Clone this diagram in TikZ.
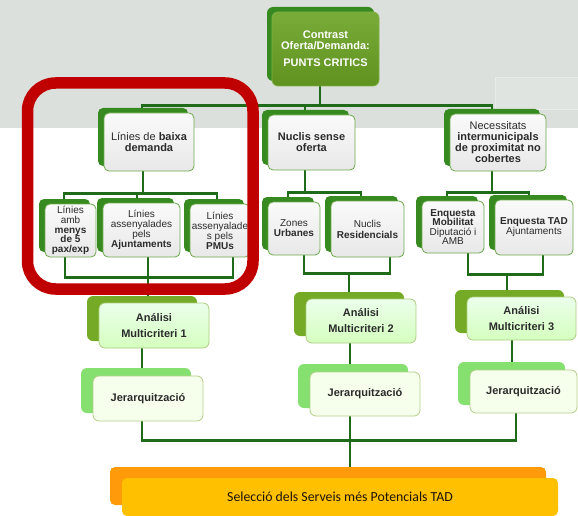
\documentclass[tikz,border=0pt]{standalone}
\usepackage{fontspec}
\setmainfont{Liberation Sans}
\newfontfamily\calibri{Carlito}
\usetikzlibrary{shadows,backgrounds,calc}
\definecolor{fons}{HTML}{DCE0DC}
\definecolor{verdfosc}{HTML}{1F6B1A}
\definecolor{verdombra}{HTML}{378A20}
\definecolor{verdvora}{HTML}{6BA84A}
\definecolor{verdarrel}{HTML}{6AA222}
\definecolor{verdanalisi}{HTML}{74AA26}
\definecolor{verdjerar}{HTML}{86E070}
\definecolor{taronja}{HTML}{FF9A0A}
\definecolor{groc}{HTML}{FFC000}
\definecolor{vermell}{HTML}{C00000}
\definecolor{textfosc}{HTML}{2B2B2B}
\tikzstyle{caixa} = [rectangle, rounded corners=5pt, draw=verdvora, line width=0.8pt,
top color=white!96!gray, bottom color=black!9, text=textfosc, align=center, inner sep=1pt,
general shadow={fill=verdombra, shadow xshift=-6pt, shadow yshift=5pt}]
\tikzstyle{arrel} = [rectangle, rounded corners=6pt, draw=verdarrel!85!white, line width=0.8pt,
top color=verdarrel!90!white, bottom color=verdarrel!90!black, text=white, align=center,
font=\fontsize{11}{11}\selectfont\bfseries,
general shadow={fill=verdombra, shadow xshift=-5pt, shadow yshift=5pt}]
\tikzstyle{analisi} = [rectangle, rounded corners=6pt, draw=verdanalisi!60!white, line width=0.8pt,
top color=green!8!white, bottom color=green!55!lime!25!white, text=textfosc, align=center,
font=\fontsize{11}{16}\selectfont\bfseries,
general shadow={fill=verdanalisi, shadow xshift=-12pt, shadow yshift=7pt}]
\tikzstyle{jerarquia} = [rectangle, rounded corners=6pt, draw=verdanalisi!55!white, line width=0.8pt,
fill=green!25!lime!8!white, text=textfosc, font=\fontsize{11}{12}\selectfont\bfseries,
general shadow={fill=verdjerar, shadow xshift=-12pt, shadow yshift=8pt}]
\tikzstyle{seleccio} = [rectangle, rounded corners=5pt, fill=groc, text=black!85!brown,
font=\calibri\fontsize{13.8}{14}\selectfont,
general shadow={fill=taronja, shadow xshift=-12pt, shadow yshift=11pt}]
\tikzstyle{linia} = [line width=2.5pt, verdfosc]

\begin{document}
\begin{tikzpicture}[x=1pt, y=-1pt]
\useasboundingbox (0,0) rectangle (578,516);
\node (arrel) at (325.5,49) [arrel, minimum width=107pt, minimum height=74pt] {Contrast\\Oferta/Demanda:\\[6pt]PUNTS CRITICS};
\node (l0) at (149,142) [caixa, minimum width=90pt, minimum height=58pt, font=\fontsize{11}{11}\selectfont] {Línies de \textbf{baixa}\\\textbf{demanda}};
\node (n0) at (311.5,142.5) [caixa, minimum width=87pt, minimum height=55pt, font=\fontsize{11}{11}\selectfont\bfseries] {Nuclis sense\\oferta};
\node (r0) at (498,142.5) [caixa, minimum width=96pt, minimum height=57pt, font=\fontsize{11}{11}\selectfont] {Necessitats\\\textbf{intermunicipals}\\\textbf{de proximitat no}\\\textbf{cobertes}};
\node (la) at (70.5,230.5) [caixa, minimum width=51pt, minimum height=53pt, font=\fontsize{10}{9.8}\selectfont] {Línies\\amb\\\textbf{menys}\\\textbf{de 5}\\\textbf{pax/exp}};
\node (lb) at (141.5,230) [caixa, minimum width=77pt, minimum height=54pt, font=\fontsize{10}{10}\selectfont] {Línies\\assenyalades\\pels\\\textbf{Ajuntaments}};
\node (lc) at (220,230.5) [caixa, minimum width=60pt, minimum height=53pt, font=\fontsize{10}{10}\selectfont] {Línies\\assenyalade\\s pels\\\textbf{PMUs}};
\node (nz) at (294,228.5) [caixa, minimum width=52pt, minimum height=53pt, font=\fontsize{10}{10}\selectfont] {Zones\\\textbf{Urbanes}};
\node (nr) at (367.5,229) [caixa, minimum width=73pt, minimum height=56pt, font=\fontsize{10}{11}\selectfont] {Nuclis\\\textbf{Residencials}};
\node (ee) at (453,227) [caixa, minimum width=62pt, minimum height=52pt, font=\fontsize{10}{9.6}\selectfont] {\textbf{Enquesta}\\\textbf{Mobilitat}\\Diputació i\\AMB};
\node (et) at (534,227.5) [caixa, minimum width=78pt, minimum height=55pt, font=\fontsize{10}{10}\selectfont] {\textbf{Enquesta TAD}\\Ajuntaments};
\node (an1) at (154,325.5) [analisi, minimum width=110pt, minimum height=45pt] {Análisi\\Multicriteri 1};
\node (an2) at (361,321) [analisi, minimum width=110pt, minimum height=44pt] {Análisi\\Multicriteri 2};
\node (an3) at (521.5,318.5) [analisi, minimum width=109pt, minimum height=43pt] {Análisi\\Multicriteri 3};
\node (je1) at (148,398.5) [jerarquia, minimum width=110pt, minimum height=45pt] {Jerarquització};
\node (je2) at (365,394) [jerarquia, minimum width=110pt, minimum height=44pt] {Jerarquització};
\node (je3) at (523.5,391.5) [jerarquia, minimum width=107pt, minimum height=43pt] {Jerarquització};
\node (sel) at (340,497) [seleccio, minimum width=436pt, minimum height=38pt] {Selecció dels Serveis més Potencials TAD};
\begin{pgfonlayer}{background}
\fill[fons] (0,0) rectangle (578,128);
\draw[draw=white!35!fons, fill=white!12!fons] (495,77) rectangle (580,109);
% nivell 1
\draw[linia] ([xshift=-5.5pt]arrel.south) -- ++(0,19) coordinate (b0);
\draw[linia] ([xshift=-7pt]l0.north) |- (b0) -| ([xshift=-6pt]r0.north);
\draw[linia] ([xshift=-6.5pt]n0.north) -- ++(0,-10);
% nivell 2
\draw[linia] ([xshift=-6pt]l0.south) -- ++(0,22) coordinate (b1);
\draw[linia] ([xshift=-6.5pt]la.north) |- (b1) -| ([xshift=-3pt]lc.north);
\draw[linia] ([xshift=-4.5pt]lb.north) -- ++(0,-10);
\draw[linia] ([xshift=-6.5pt]n0.south) -- ++(0,22) coordinate (b2);
\draw[linia] ([xshift=-6pt]nz.north) |- (b2) -| ([xshift=-6.5pt]nr.north);
\draw[linia] ([xshift=-6pt]r0.south) -- ++(0,21) coordinate (b3);
\draw[linia] ([xshift=-6pt]ee.north) |- (b3) -| ([xshift=-5pt]et.north);
% nivell 3
\draw[linia] ([xshift=-5.5pt]la.south) -- ++(0,20) -| ([xshift=13pt]lc.south);
\draw[linia] ([xshift=6.5pt]lb.south) -- ([xshift=-6pt]an1.north);
\draw[linia] ([xshift=10pt]nz.south) -- ++(0,18) -| ([xshift=22.5pt]nr.south);
\draw[linia] ([xshift=-12pt]an2.north) -- ++(0,-26);
\draw[linia] ([xshift=15pt]ee.south) -- ++(0,21) -| ([xshift=9pt]et.south);
\draw[linia] ([xshift=-14.5pt]an3.north) -- ++(0,-23);
% analisi
\draw[linia] ([xshift=-12pt]an1.south) -- ([xshift=-6pt]je1.north);
\draw[linia] ([xshift=-11pt]an2.south) -- ([xshift=-15pt]je2.north);
\draw[linia] ([xshift=-9.5pt]an3.south) -- ([xshift=-11.5pt]je3.north);
% seleccio
\draw[linia] ([xshift=-6pt]je1.south) -- ++(0,19) -| ([xshift=-7.5pt]je3.south);
\draw[linia] ([xshift=-15pt]je2.south) -- ([xshift=10pt]sel.north);
\end{pgfonlayer}
\draw[vermell, line width=11.5pt, rounded corners=28pt] (27.5,83) rectangle (253,289);
\end{tikzpicture}
\end{document}
